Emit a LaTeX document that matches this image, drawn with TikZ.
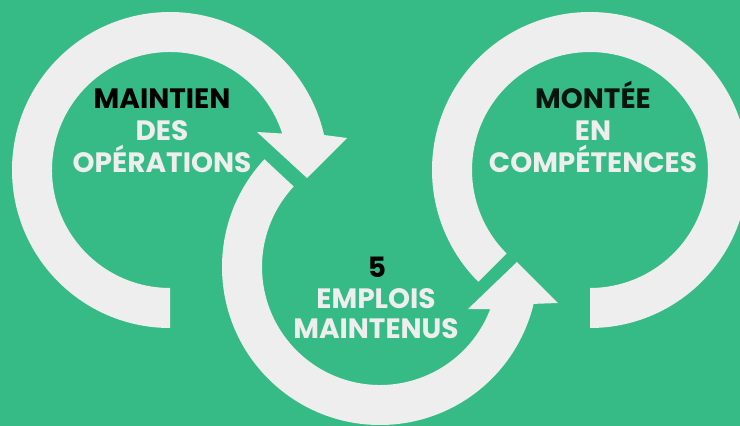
\documentclass[tikz,border=0pt]{standalone}
\usepackage{fontspec}
\usetikzlibrary{calc}
\setmainfont{Poppins}[BoldFont={* Bold}]
\definecolor{bggreen}{RGB}{55,187,134}
\definecolor{ringw}{RGB}{238,238,238}
\definecolor{darktxt}{RGB}{8,20,14}
\begin{document}
\begin{tikzpicture}[x=1pt,y=1pt,
  ring/.style={fill=ringw},
  lbl/.style={anchor=base,inner sep=0pt,font=\fontsize{28}{30}\selectfont\bfseries},
  blk/.style={lbl,text=black},
  wht/.style={lbl,text=ringw}]
\fill[bggreen] (0,0) rectangle (740,-426);
\useasboundingbox (0,0) rectangle (740,-426);
% left ring with arrowhead
\coordinate (L) at (170,-170);
\fill[ring] (170,-328) arc[start angle=270,end angle=12.8,radius=158]
  -- (347,-138) -- (307,-178) -- (257,-132)
  -- ($(L)+(18:118)$) arc[start angle=18,end angle=270,radius=118] -- cycle;
% right ring
\coordinate (R) at (590,-170);
\fill[ring] (590,-328) arc[start angle=-90,end angle=225,radius=158]
  -- ($(R)+(225:118)$) arc[start angle=225,end angle=-90,radius=118] -- cycle;
% middle ring with arrowhead
\coordinate (M) at (380,-267);
\fill[ring] ($(M)+(137:158)$) arc[start angle=137,end angle=346.5,radius=158]
  -- (558,-303) -- (517,-262) -- (468,-309)
  -- ($(M)+(339.1:118)$) arc[start angle=339.1,end angle=137,radius=118] -- cycle;
% texts
\node[blk] (t1) at (162,-108) {MAINTIEN};
\node[wht] (t2) at (162,-140) {DES};
\node[wht] (t3) at (162,-172) {OPÉRATIONS};
\node[blk,text=darktxt] (r1) at (593,-108) {MONTÉE};
\node[wht] (r2) at (593,-140) {EN};
\node[wht] (r3) at (593,-172) {COMPÉTENCES};
\node[blk] (m1) at (377,-277) {5};
\node[wht] (m2) at (376,-308) {EMPLOIS};
\node[wht] (m3) at (376,-338) {MAINTENUS};
\end{tikzpicture}
\end{document}
